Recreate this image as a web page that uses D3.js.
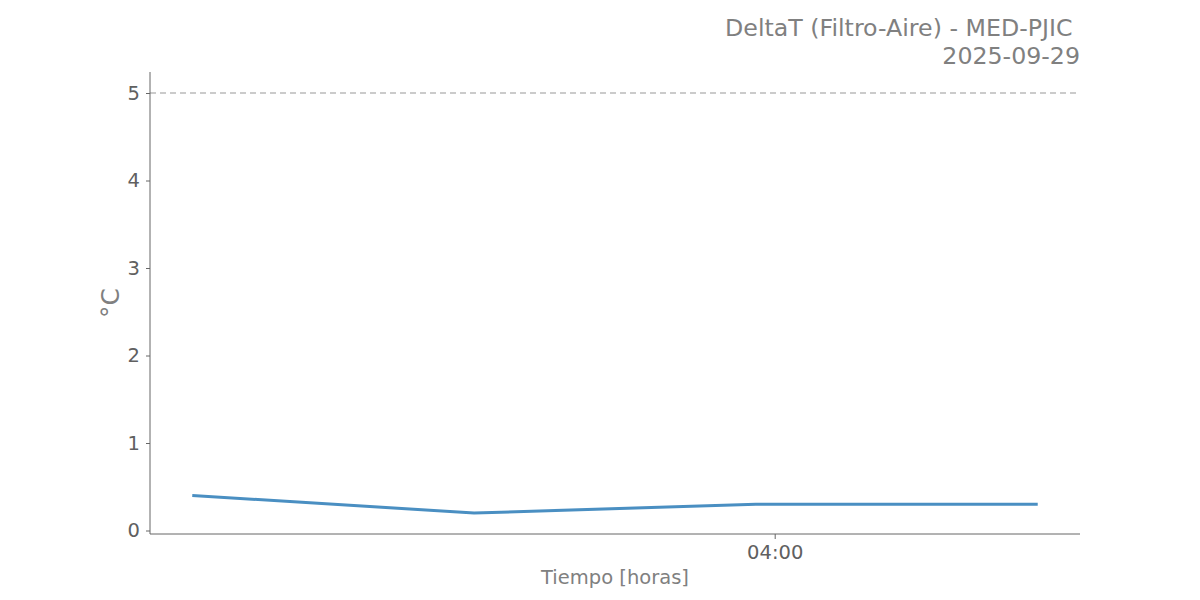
<!DOCTYPE html>
<html><head><meta charset="utf-8">
<script src="https://cdn.jsdelivr.net/npm/d3@7"></script>
<style>body{margin:0;background:#fff;} svg{display:block;font-family:"DejaVu Sans",sans-serif;}</style>
</head><body><svg id="c" width="1200" height="600"></svg>
<script>
const times = ["2025-09-29T01:56:00","2025-09-29T02:56:00","2025-09-29T03:56:00","2025-09-29T04:56:00"];
const deltaT = [0.4, 0.2, 0.3, 0.3];
const threshold = 5;
const yTicks = [0,1,2,3,4,5];
const titleLines = ["DeltaT (Filtro-Aire) - MED-PJIC ", "2025-09-29"];
const xLabel = "Tiempo [horas]";
const yLabel = "°C";

const parse = d3.isoParse;
const data = times.map((t,i)=>({t:parse(t), v:deltaT[i]}));
const svg = d3.select("#c");
const L=150,R=1080,T=72,B=534;
const ext = d3.extent(data,d=>d.t);
const pad = (ext[1]-ext[0])*0.05;
const x = d3.scaleTime().domain([new Date(+ext[0]-pad), new Date(+ext[1]+pad)]).range([L,R]);
const y = d3.scaleLinear().domain([-0.04,5.24]).range([B,T]);

// threshold line
svg.append("line").attr("x1",L).attr("x2",R).attr("y1",y(threshold)).attr("y2",y(threshold))
  .attr("stroke","#bbbbbb").attr("stroke-width",1.5).attr("stroke-dasharray","6,4");

// axes
const ya = svg.append("g").attr("transform",`translate(${L},0)`)
  .call(d3.axisLeft(y).tickValues(yTicks).tickFormat(d3.format("d")).tickSize(4).tickPadding(6));
const xa = svg.append("g").attr("transform",`translate(0,${B})`)
  .call(d3.axisBottom(x).ticks(d3.timeHour.every(4)).tickFormat(d3.timeFormat("%H:%M")).tickSize(5).tickPadding(6));
[ya,xa].forEach(g=>{
  g.select(".domain").attr("stroke","#666").attr("stroke-width",1);
  g.selectAll(".tick line").attr("stroke","#666");
  g.selectAll(".tick text").attr("fill","#606060").style("font-size","19.5px").style("font-family","DejaVu Sans");
});
ya.select(".domain").attr("d",`M0,${T}V${B}`);
xa.select(".domain").attr("d",`M${L},0H${R}`);

// line
svg.append("path").datum(data).attr("fill","none").attr("stroke","#4a8fc2").attr("stroke-width",3)
  .attr("d",d3.line().x(d=>x(d.t)).y(d=>y(d.v)));

// labels
svg.append("text").attr("x",(L+R)/2).attr("y",584).attr("text-anchor","middle")
  .attr("fill","#808080").style("font-size","19.5px").text(xLabel);
svg.append("text").attr("transform",`translate(119,${(T+B)/2}) rotate(-90)`).attr("text-anchor","middle")
  .attr("fill","#808080").style("font-size","25px").text(yLabel);

// title
svg.append("text").attr("x",R).attr("y",36).attr("text-anchor","end").attr("fill","#808080")
  .style("font-size","23.7px").style("white-space","pre").attr("xml:space","preserve").text(titleLines[0]);
svg.append("text").attr("x",R).attr("y",64).attr("text-anchor","end").attr("fill","#808080")
  .style("font-size","23.7px").text(titleLines[1]);
</script></body></html>
